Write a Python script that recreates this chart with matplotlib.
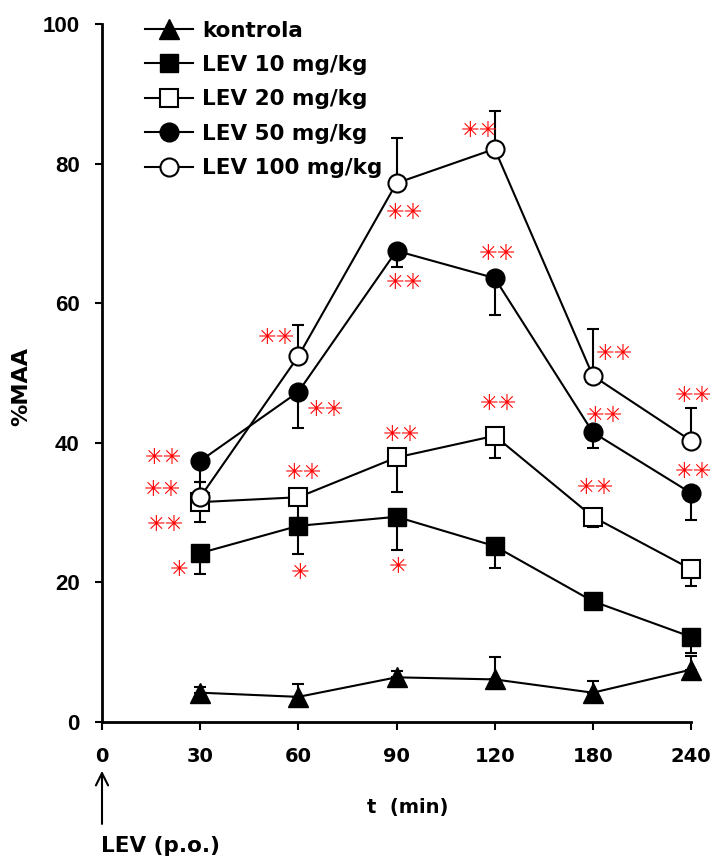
import matplotlib
matplotlib.use("Agg")
import matplotlib.pyplot as plt
from matplotlib.lines import Line2D

plt.rcParams['font.family'] = ['Liberation Sans', 'DejaVu Sans']
plt.rcParams['font.weight'] = 'bold'

# ---- data ----
tick_labels = ['0', '30', '60', '90', '120', '180', '240']
time_idx = [1, 2, 3, 4, 5, 6]          # categorical positions of 30..240

kontrola = [4.2, 3.6, 6.4, 6.1, 4.2, 7.5]
kontrola_err = [0.8, 1.8, 0.9, 3.2, 1.7, 2.0]      # upward

lev10 = [24.2, 28.1, 29.4, 25.2, 17.3, 12.2]
lev10_err = [3.0, 4.0, 4.8, 3.1, 0.6, 2.3]          # downward

lev20 = [31.5, 32.2, 37.9, 41.0, 29.4, 21.9]
lev20_err = [2.9, 3.0, 4.9, 3.2, 1.4, 2.4]          # downward

lev50 = [37.4, 47.3, 67.5, 63.6, 41.5, 32.8]
lev50_err = [3.0, 5.2, 2.3, 5.3, 2.2, 3.9]          # downward

lev100 = [32.2, 52.4, 77.2, 82.1, 49.6, 40.3]
lev100_err = [2.2, 4.5, 6.5, 5.4, 6.7, 4.7]         # upward

series_labels = ['kontrola', 'LEV 10 mg/kg', 'LEV 20 mg/kg', 'LEV 50 mg/kg', 'LEV 100 mg/kg']

# significance marks: (text, x position index, y value)
sig_text = ['**', '**', '**', '*',
            '**', '**', '**', '*',
            '**', '**', '**', '*',
            '**', '**', '**',
            '**', '**', '**',
            '**', '**']
sig_x = [0.63, 0.61, 0.65, 0.79,
         1.78, 2.28, 2.05, 2.02,
         3.08, 3.08, 3.05, 3.02,
         3.84, 4.03, 4.04,
         5.22, 5.12, 5.03,
         6.02, 6.02]
sig_y = [37.8, 33.2, 28.2, 21.8,
         55.0, 44.7, 35.7, 21.3,
         72.9, 62.9, 41.1, 22.2,
         84.7, 67.0, 45.6,
         52.7, 43.8, 33.5,
         46.7, 35.8]

# ---- figure ----
fig = plt.figure(figsize=(7.13, 8.58), dpi=100)
ax = fig.add_axes([102/713, 1-722/858, (691-102)/713, (722-24)/858])

lw = 1.5
cap = 4.5

styles = [
    dict(marker='^', mfc='black', mec='black', ms=14),
    dict(marker='s', mfc='black', mec='black', ms=13),
    dict(marker='s', mfc='white', mec='black', ms=12.5, mew=1.5),
    dict(marker='o', mfc='black', mec='black', ms=13.5),
    dict(marker='o', mfc='white', mec='black', ms=13, mew=1.5),
]
data = [kontrola, lev10, lev20, lev50, lev100]
errs = [kontrola_err, lev10_err, lev20_err, lev50_err, lev100_err]
up = [True, False, False, False, True]

for i in range(5):
    if up[i]:
        yerr = [[0]*6, errs[i]]
    else:
        yerr = [errs[i], [0]*6]
    eb = ax.errorbar(time_idx, data[i], yerr=yerr, fmt='none', ecolor='black',
                     elinewidth=lw, capsize=cap, capthick=lw, zorder=2+i*0.1)
    for art in eb.get_children():
        art.set_clip_on(False)
for i in range(5):
    ax.plot(time_idx, data[i], color='black', lw=lw, zorder=3+i*0.1, clip_on=False, **styles[i])

for t, x, y in zip(sig_text, sig_x, sig_y):
    ax.text(x, y, '\u2733' * len(t), color='red', fontsize=16, ha='center', va='center',
            family=['DejaVu Sans'], fontweight='normal')

ax.set_xlim(0, 6)
ax.set_ylim(0, 100)
ax.set_xticks(range(7))
ax.set_xticklabels(tick_labels, family='DejaVu Sans', fontsize=14, fontweight='bold')
ax.set_yticks([0, 20, 40, 60, 80, 100])
ax.set_yticklabels(['0', '20', '40', '60', '80', '100'], family='Liberation Sans',
                   fontsize=16, fontweight='bold')
ax.tick_params(axis='x', direction='out', length=6, width=1.5, pad=12)
ax.tick_params(axis='y', direction='out', length=5, width=1.5, pad=11)
ax.spines['top'].set_visible(False)
ax.spines['right'].set_visible(False)
ax.spines['left'].set_linewidth(2)
ax.spines['bottom'].set_linewidth(2)

fig.text(21/713, 1-386/858, '%MAA', fontsize=16, fontweight='bold', rotation=90,
         ha='center', va='center', family='DejaVu Sans')
fig.text(408/713, 1-808/858, 't  (min)', fontsize=14, fontweight='bold',
         ha='center', va='center', family='DejaVu Sans')

# arrow for administration
ax.annotate('', xy=(0, -6.6), xytext=(0, -15.0), xycoords='data', textcoords='data',
            arrowprops=dict(arrowstyle='->', color='black', lw=1.5, mutation_scale=22),
            annotation_clip=False)
fig.text(101/713, 1-846/858, 'LEV (p.o.)', fontsize=15.5, fontweight='bold',
         ha='left', va='center', family='DejaVu Sans')

handles = [Line2D([0], [0], color='black', lw=lw, **styles[i]) for i in range(5)]
leg = ax.legend(handles, series_labels, loc='upper left', bbox_to_anchor=(0.073, 1.005),
                frameon=False, prop=dict(size=15.5, weight='bold', family='DejaVu Sans'),
                handlelength=2.23, handletextpad=0.42, labelspacing=0.67,
                borderpad=0, borderaxespad=0)

fig.savefig('out.png', dpi=100)
